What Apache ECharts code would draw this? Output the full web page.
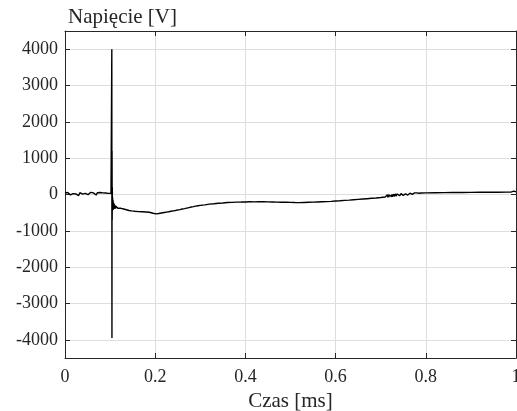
<!DOCTYPE html>
<html>
<head>
<meta charset="utf-8">
<script src="https://cdn.jsdelivr.net/npm/echarts@6/dist/echarts.min.js"></script>
<style>
html,body{margin:0;padding:0;background:#fff;font-family:'Liberation Serif',serif;}
#chart{width:517px;height:411px;}
</style>
</head>
<body>
<div id="chart"></div>
<script>
// ---- data ----
var xTicks = [0, 0.2, 0.4, 0.6, 0.8, 1];
var yTicks = [-4000, -3000, -2000, -1000, 0, 1000, 2000, 3000, 4000];
var xLabel = 'Czas [ms]';
var yLabel = 'Napięcie [V]';

var timeMs = [
  0, 0.003, 0.006, 0.009, 0.012, 0.015, 0.018, 0.021, 0.024, 0.027, 0.030, 0.033, 0.036, 0.039, 0.042, 0.045, 0.048, 0.051,
  0.054, 0.057, 0.060, 0.063, 0.066, 0.069, 0.072, 0.075, 0.078, 0.081, 0.084, 0.087, 0.090, 0.093, 0.096, 0.099, 0.102, 0.1035,
  0.1038, 0.1041, 0.1043, 0.1046, 0.1049, 0.1052, 0.1056, 0.106, 0.1065, 0.107, 0.1075, 0.108, 0.1085, 0.109, 0.1095, 0.110,
  0.111, 0.112, 0.113, 0.114, 0.115, 0.117, 0.119, 0.121, 0.124, 0.127, 0.130, 0.133, 0.136, 0.139, 0.142, 0.145, 0.148,
  0.151, 0.155, 0.159, 0.163, 0.167, 0.171, 0.175, 0.179, 0.183, 0.187, 0.191, 0.195, 0.199, 0.203, 0.207, 0.211, 0.215,
  0.220, 0.225, 0.230, 0.235, 0.240, 0.245, 0.250, 0.255, 0.260, 0.265, 0.270, 0.275, 0.280, 0.285, 0.290, 0.295, 0.300,
  0.31, 0.32, 0.33, 0.34, 0.35, 0.36, 0.37, 0.38, 0.39, 0.40, 0.41, 0.42, 0.43, 0.44, 0.45, 0.46, 0.47, 0.48, 0.49, 0.50,
  0.51, 0.52, 0.53, 0.54, 0.55, 0.56, 0.57, 0.58, 0.59, 0.60, 0.61, 0.62, 0.63, 0.64, 0.65, 0.66, 0.67, 0.68, 0.69, 0.70,
  0.705, 0.71, 0.714, 0.715, 0.716, 0.717, 0.718, 0.719, 0.720, 0.721, 0.722, 0.723, 0.724, 0.725, 0.726, 0.727, 0.728,
  0.729, 0.730, 0.731, 0.732, 0.733, 0.734, 0.735, 0.736, 0.737, 0.738, 0.739, 0.740, 0.741, 0.742, 0.743, 0.744, 0.745,
  0.746, 0.747, 0.748, 0.749, 0.750, 0.751, 0.752, 0.753, 0.754, 0.755, 0.756, 0.757, 0.758, 0.759, 0.760, 0.761, 0.762,
  0.763, 0.764, 0.765, 0.766, 0.767, 0.768, 0.769, 0.770, 0.771, 0.772, 0.773, 0.774, 0.775, 0.776, 0.777, 0.778,
  0.78, 0.785, 0.79, 0.80, 0.82, 0.84, 0.86, 0.88, 0.90, 0.92, 0.94, 0.96, 0.98, 0.99, 0.995, 1.0
];
var voltage = [
  40, 20, 55, 30, -10, 45, 25, 60, 15, 40, -30, 50, 35, 10, 55, 30, 45, -5,
  40, 60, 20, 45, 30, -15, 50, 35, 55, 20, 45, 0, 40, 60, 30, 50, 35, 45,
  4000, -3950, 1200, -700, 200, -450, -80, -400, -150, -420, -220, -380, -250, -400, -280, -360,
  -300, -390, -320, -370, -330, -380, -350, -390, -380, -410, -400, -430, -420, -445, -440, -460, -450,
  -465, -460, -475, -470, -480, -475, -485, -480, -495, -490, -505, -515, -530, -535, -520, -515, -505,
  -495, -485, -475, -460, -450, -440, -425, -415, -400, -390, -375, -360, -345, -335, -320, -310, -300,
  -285, -265, -255, -240, -232, -222, -218, -210, -208, -205, -200, -202, -198, -200, -204, -206, -210, -212, -215, -218,
  -222, -225, -220, -215, -210, -205, -200, -195, -188, -180, -172, -162, -155, -145, -135, -125, -115, -105, -95, -82,
  -75, -68, -60, -10, -80, -5, -75, -15, -70, 0, -65, -10, -60, 5, -60, -5, -55,
  10, -50, 0, -50, 15, -45, 5, -45, 15, -40, 10, -40, 20, -35, 10, -35, 25, -30,
  15, -30, 25, -25, 20, -25, 30, -20, 20, -20, 30, -15, 25, -15, 35, -10, 30,
  -10, 35, -5, 35, 0, 40, 5, 35, 10, 40, 15, 45, 20, 40, 25, 45,
  35, 40, 45, 50, 52, 55, 55, 58, 60, 62, 63, 66, 70, 95, 70, 75
];

var seriesData = timeMs.map(function (t, i) { return [t, voltage[i]]; });

var font = "'Liberation Serif', serif";
var axisCol = '#262626';
var gridCol = '#dedede';

var labelStyle = {fontFamily: font, fontSize: 18, color: axisCol, fontWeight: 'normal'};

var chart = echarts.init(document.getElementById('chart'), null, {renderer: 'canvas'});
chart.setOption({
  animation: false,
  backgroundColor: '#ffffff',
  textStyle: {fontFamily: font},
  grid: {left: 65, right: 1, top: 31, bottom: 53, containLabel: false, outerBoundsMode: 'none'},
  xAxis: [{
    type: 'value', min: 0, max: 1, interval: 0.2,
    name: xLabel, nameLocation: 'middle', nameGap: 30,
    nameTextStyle: {fontFamily: font, fontSize: 21, color: axisCol},
    axisLine: {show: true, onZero: false, lineStyle: {color: axisCol, width: 1}},
    axisTick: {show: true, inside: true, length: 5, lineStyle: {color: axisCol}},
    axisLabel: Object.assign({margin: 10, customValues: xTicks,
      formatter: function (v) { return String(+(+v).toFixed(1)); }}, labelStyle),
    splitLine: {show: true, lineStyle: {color: gridCol, width: 1}}
  }, {
    type: 'value', min: 0, max: 1, interval: 0.2, position: 'top',
    axisLine: {show: true, onZero: false, lineStyle: {color: axisCol, width: 1}},
    axisTick: {show: true, inside: true, length: 5, lineStyle: {color: axisCol}},
    axisLabel: {show: false}, splitLine: {show: false}
  }],
  yAxis: [{
    type: 'value', min: -4500, max: 4500,
    name: yLabel, nameLocation: 'end', nameGap: 3,
    nameTextStyle: {fontFamily: font, fontSize: 21, color: axisCol, align: 'left', verticalAlign: 'bottom', padding: [0, 0, 0, 3]},
    axisLine: {show: true, onZero: false, lineStyle: {color: axisCol, width: 1}},
    axisTick: {show: true, inside: true, length: 5, customValues: yTicks, lineStyle: {color: axisCol}},
    axisLabel: Object.assign({margin: 7, customValues: yTicks,
      formatter: function (v) { return String(Math.round(v)); }}, labelStyle),
    splitLine: {show: true, lineStyle: {color: gridCol, width: 1}}
  }, {
    type: 'value', min: -4500, max: 4500, position: 'right',
    axisLine: {show: true, onZero: false, lineStyle: {color: axisCol, width: 1}},
    axisTick: {show: true, inside: true, length: 5, customValues: yTicks, lineStyle: {color: axisCol}},
    axisLabel: {show: false}, splitLine: {show: false}
  }],
  series: [{
    type: 'line',
    xAxisIndex: 0, yAxisIndex: 0,
    data: seriesData,
    showSymbol: false, symbol: 'none',
    lineStyle: {color: '#000000', width: 1.4},
    sampling: null
  }]
});
</script>
</body>
</html>
